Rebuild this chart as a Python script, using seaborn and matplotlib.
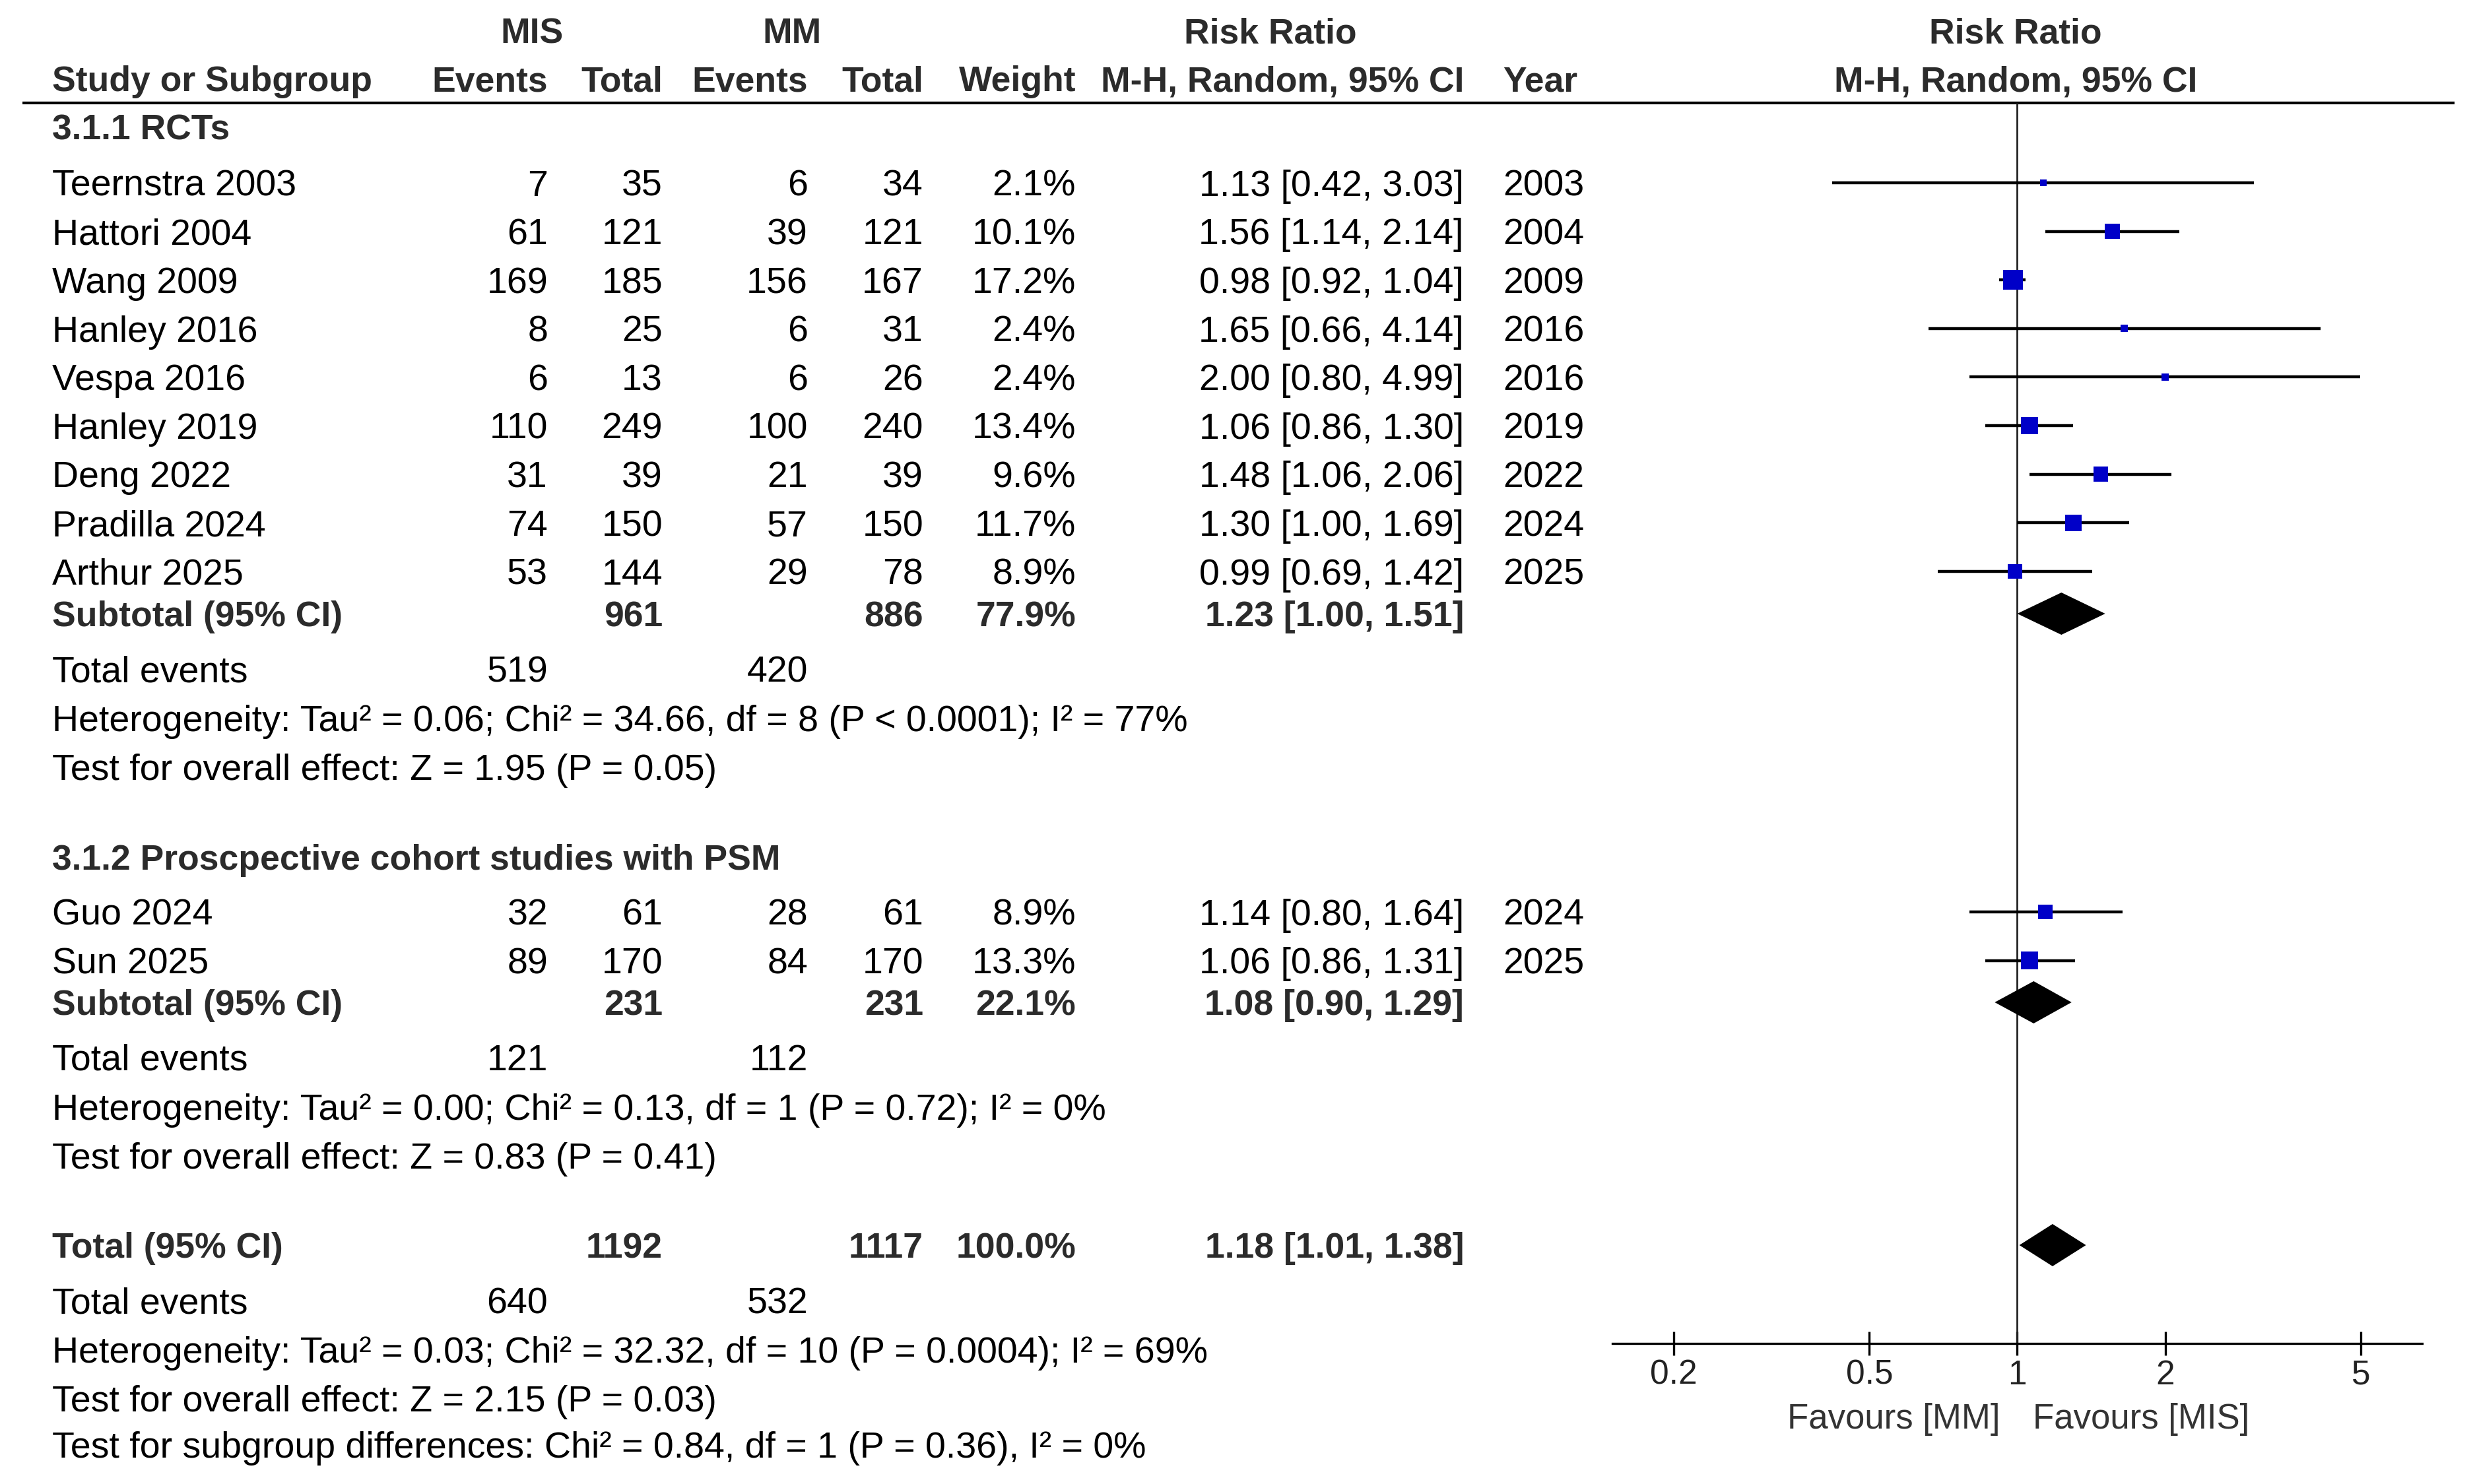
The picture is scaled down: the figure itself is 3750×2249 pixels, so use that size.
import numpy as np
import pandas as pd
import matplotlib
matplotlib.use("Agg")
import matplotlib.pyplot as plt
from matplotlib.ticker import NullLocator, FixedLocator, FixedFormatter
import seaborn as sns

# ---------------- data ----------------
g1_study = ["Teernstra 2003", "Hattori 2004", "Wang 2009", "Hanley 2016", "Vespa 2016",
            "Hanley 2019", "Deng 2022", "Pradilla 2024", "Arthur 2025"]
g1_mis_events = [7, 61, 169, 8, 6, 110, 31, 74, 53]
g1_mis_total = [35, 121, 185, 25, 13, 249, 39, 150, 144]
g1_mm_events = [6, 39, 156, 6, 6, 100, 21, 57, 29]
g1_mm_total = [34, 121, 167, 31, 26, 240, 39, 150, 78]
g1_weight = [2.1, 10.1, 17.2, 2.4, 2.4, 13.4, 9.6, 11.7, 8.9]
g1_rr = [1.13, 1.56, 0.98, 1.65, 2.00, 1.06, 1.48, 1.30, 0.99]
g1_lo = [0.42, 1.14, 0.92, 0.66, 0.80, 0.86, 1.06, 1.00, 0.69]
g1_hi = [3.03, 2.14, 1.04, 4.14, 4.99, 1.30, 2.06, 1.69, 1.42]
g1_year = [2003, 2004, 2009, 2016, 2016, 2019, 2022, 2024, 2025]

g2_study = ["Guo 2024", "Sun 2025"]
g2_mis_events = [32, 89]
g2_mis_total = [61, 170]
g2_mm_events = [28, 84]
g2_mm_total = [61, 170]
g2_weight = [8.9, 13.3]
g2_rr = [1.14, 1.06]
g2_lo = [0.80, 0.86]
g2_hi = [1.64, 1.31]
g2_year = [2024, 2025]

# summaries: [subgroup 1, subgroup 2, overall]
sum_label = ["Subtotal (95% CI)", "Subtotal (95% CI)", "Total (95% CI)"]
sum_mis_total = [961, 231, 1192]
sum_mm_total = [886, 231, 1117]
sum_weight = [77.9, 22.1, 100.0]
sum_rr = [1.23, 1.08, 1.18]
sum_lo = [1.00, 0.90, 1.01]
sum_hi = [1.51, 1.29, 1.38]
sum_mis_events = [519, 121, 640]
sum_mm_events = [420, 112, 532]
sum_het = ["Heterogeneity: Tau² = 0.06; Chi² = 34.66, df = 8 (P < 0.0001); I² = 77%",
           "Heterogeneity: Tau² = 0.00; Chi² = 0.13, df = 1 (P = 0.72); I² = 0%",
           "Heterogeneity: Tau² = 0.03; Chi² = 32.32, df = 10 (P = 0.0004); I² = 69%"]
sum_test = ["Test for overall effect: Z = 1.95 (P = 0.05)",
            "Test for overall effect: Z = 0.83 (P = 0.41)",
            "Test for overall effect: Z = 2.15 (P = 0.03)"]
subgroup_test = "Test for subgroup differences: Chi² = 0.84, df = 1 (P = 0.36), I² = 0%"
group_titles = ["3.1.1 RCTs", "3.1.2 Proscpective cohort studies with PSM"]
axis_ticks = [0.2, 0.5, 1, 2, 5]
axis_ticklabels = ["0.2", "0.5", "1", "2", "5"]
favours_left = "Favours [MM]"
favours_right = "Favours [MIS]"

# ---------------- layout (pixels) ----------------
W, H = 3750, 2249
STEP = 73.6
y_g1 = [277 + STEP * i for i in range(len(g1_study))]
y_g2 = [1382 + STEP * i for i in range(len(g2_study))]
y_title = [192, 1299]
y_sum = [930, 1519, 1887]
y_tev = [1014, 1602, 1971]
y_het = [1088, 1677, 2045]
y_test = [1162, 1751, 2119]
y_subtest = 2189
AXIS_Y = 2036
LINE_Y = 156

X_LABEL = 79
X_MIS_EV, X_MIS_TOT, X_MM_EV, X_MM_TOT = 830, 1004, 1224, 1399
X_WEIGHT, X_CI, X_YEAR = 1630, 2218, 2277
FX0, FX1 = 2443, 3670

sns.set_theme(style="white")
plt.rcParams['font.family'] = ['Liberation Sans', 'DejaVu Sans']

FS = 40
FSB = 38.5
BOLD_C = '#2b2b2b'

fig = plt.figure(figsize=(W / 100, H / 100), dpi=100)
fig.patch.set_facecolor('white')
ax = fig.add_axes([0, 0, 1, 1])
ax.set_xlim(0, W)
ax.set_ylim(H, 0)
ax.axis('off')


def txt(x, y, s, ha='left', bold=False, size=None, color=None):
    if size is None:
        size = FSB if bold else FS
    cap = size * 100 / 72 * 0.716
    ax.text(x, y + cap / 2, s, ha=ha, va='baseline', fontsize=size,
            fontweight='bold' if bold else 'normal',
            color=color if color else (BOLD_C if bold else 'black'))


# headers
txt(806, 46, "MIS", ha='center', bold=True)
txt(1200, 46, "MM", ha='center', bold=True)
txt(1925, 46, "Risk Ratio", ha='center', bold=True)
txt(3054, 46, "Risk Ratio", ha='center', bold=True)
txt(X_LABEL, 119, "Study or Subgroup", bold=True)
txt(X_MIS_EV, 119, "Events", ha='right', bold=True)
txt(X_MIS_TOT, 119, "Total", ha='right', bold=True)
txt(X_MM_EV, 119, "Events", ha='right', bold=True)
txt(X_MM_TOT, 119, "Total", ha='right', bold=True)
txt(X_WEIGHT, 119, "Weight", ha='right', bold=True)
txt(X_CI, 119, "M-H, Random, 95% CI", ha='right', bold=True)
txt(X_YEAR, 119, "Year", bold=True)
txt(3054, 119, "M-H, Random, 95% CI", ha='center', bold=True)
ax.plot([34, 3719], [LINE_Y, LINE_Y], color='black', lw=3.0, solid_capstyle='butt')

groups = [
    (g1_study, g1_mis_events, g1_mis_total, g1_mm_events, g1_mm_total, g1_weight, g1_rr, g1_lo, g1_hi, g1_year, y_g1),
    (g2_study, g2_mis_events, g2_mis_total, g2_mm_events, g2_mm_total, g2_weight, g2_rr, g2_lo, g2_hi, g2_year, y_g2),
]

for gi, (st, me, mt, ce, ct, w, rr, lo, hi, yr, ys) in enumerate(groups):
    txt(X_LABEL, y_title[gi], group_titles[gi], bold=True)
    for i in range(len(st)):
        y = ys[i]
        txt(X_LABEL, y, st[i])
        txt(X_MIS_EV, y, str(me[i]), ha='right')
        txt(X_MIS_TOT, y, str(mt[i]), ha='right')
        txt(X_MM_EV, y, str(ce[i]), ha='right')
        txt(X_MM_TOT, y, str(ct[i]), ha='right')
        txt(X_WEIGHT, y, f"{w[i]:.1f}%", ha='right')
        txt(X_CI, y, f"{rr[i]:.2f} [{lo[i]:.2f}, {hi[i]:.2f}]", ha='right')
        txt(X_YEAR, y, str(yr[i]))

for k in range(3):
    txt(X_LABEL, y_sum[k], sum_label[k], bold=True)
    txt(X_MIS_TOT, y_sum[k], str(sum_mis_total[k]), ha='right', bold=True)
    txt(X_MM_TOT, y_sum[k], str(sum_mm_total[k]), ha='right', bold=True)
    txt(X_WEIGHT, y_sum[k], f"{sum_weight[k]:.1f}%", ha='right', bold=True)
    txt(X_CI, y_sum[k], f"{sum_rr[k]:.2f} [{sum_lo[k]:.2f}, {sum_hi[k]:.2f}]", ha='right', bold=True)
    txt(X_LABEL, y_tev[k], "Total events")
    txt(X_MIS_EV, y_tev[k], str(sum_mis_events[k]), ha='right')
    txt(X_MM_EV, y_tev[k], str(sum_mm_events[k]), ha='right')
    txt(X_LABEL, y_het[k], sum_het[k])
    txt(X_LABEL, y_test[k], sum_test[k])
txt(X_LABEL, y_subtest, subgroup_test)

# ---------------- forest panel ----------------
fax = fig.add_axes([FX0 / W, (H - AXIS_Y) / H, (FX1 - FX0) / W, AXIS_Y / H])
fax.set_facecolor('none')
fax.set_xscale('log')
fax.set_xlim(0.15, 6.67)
fax.set_ylim(AXIS_Y, 0)
for s in ['left', 'right', 'top']:
    fax.spines[s].set_visible(False)
fax.spines['bottom'].set_linewidth(2.4)
fax.spines['bottom'].set_color('black')
fax.yaxis.set_major_locator(NullLocator())
fax.xaxis.set_minor_locator(NullLocator())
fax.xaxis.set_major_locator(FixedLocator(axis_ticks))
fax.xaxis.set_major_formatter(FixedFormatter(axis_ticklabels))
fax.tick_params(axis='x', which='major', direction='inout', length=26, width=2.4,
                pad=4, labelsize=37, colors='black', bottom=True)
for lab in fax.get_xticklabels():
    lab.set_color('#222222')

# null line
fax.vlines(1, LINE_Y, AXIS_Y, color='#222222', lw=2.0, zorder=1)

study_df = pd.DataFrame({
    "rr": g1_rr + g2_rr,
    "lo": g1_lo + g2_lo,
    "hi": g1_hi + g2_hi,
    "weight": g1_weight + g2_weight,
    "y": y_g1 + y_g2,
})
fax.hlines(study_df["y"], study_df["lo"], study_df["hi"], color='black', lw=3.2, zorder=2)
K = 27.0
wmin, wmax = study_df["weight"].min(), study_df["weight"].max()
sns.scatterplot(data=study_df, x="rr", y="y", size="weight", sizes=(K * wmin, K * wmax),
                size_norm=(wmin, wmax), marker='s', color='#0000C8', edgecolor='none',
                linewidth=0, legend=False, ax=fax, zorder=3)
fax.set_xlabel("")
fax.set_ylabel("")
fax.set_ylim(AXIS_Y, 0)

HALF = 32
for k in range(3):
    fax.fill([sum_lo[k], sum_rr[k], sum_hi[k], sum_rr[k]],
             [y_sum[k], y_sum[k] - HALF, y_sum[k], y_sum[k] + HALF],
             color='black', lw=0, zorder=3)

txt(3030, 2146, favours_left, ha='right', size=38, color='#333333')
txt(3080, 2146, favours_right, ha='left', size=38, color='#333333')

fig.savefig("out.png", dpi=100, facecolor='white')
